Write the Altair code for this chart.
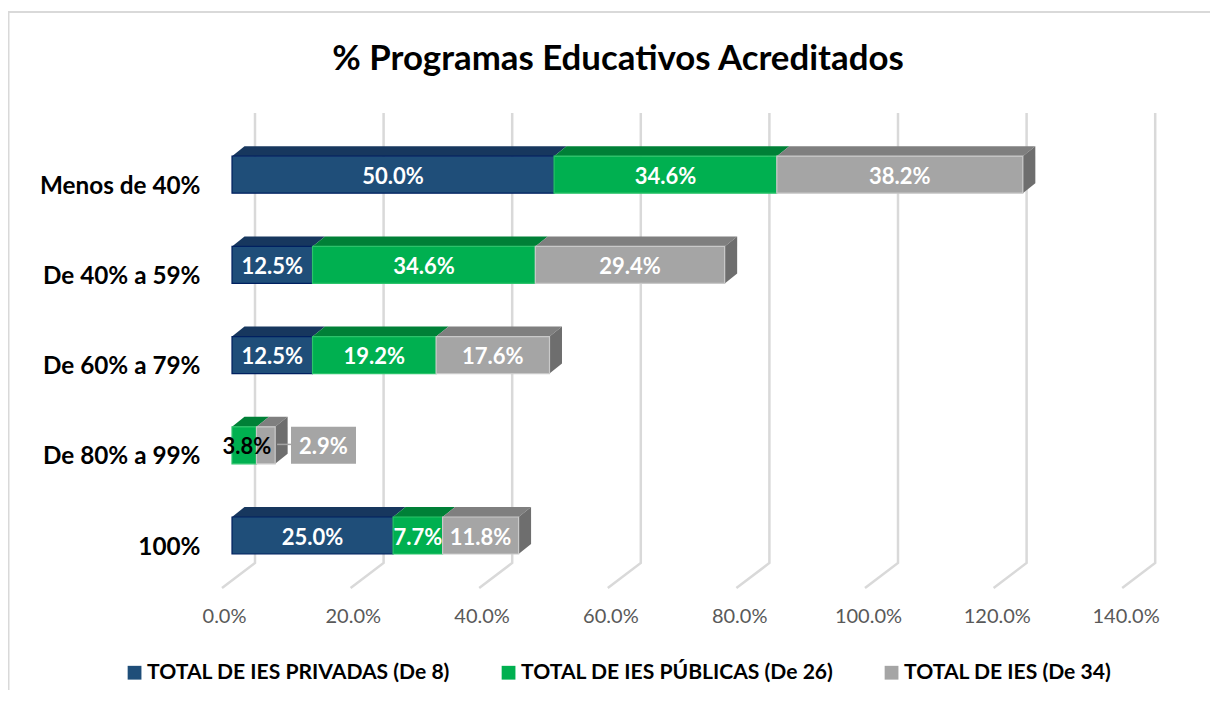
import altair as alt
import pandas as pd

TITLE = "% Programas Educativos Acreditados"
categories = ["100%", "De 80% a 99%", "De 60% a 79%", "De 40% a 59%", "Menos de 40%"]
series_names = ["TOTAL DE IES PRIVADAS (De 8)", "TOTAL DE IES PÚBLICAS (De 26)", "TOTAL DE IES (De 34)"]
privadas = [25.0, 0.0, 12.5, 12.5, 50.0]
publicas = [7.7, 3.8, 19.2, 34.6, 34.6]
total = [11.8, 2.9, 17.6, 29.4, 38.2]
ticks = [0, 20, 40, 60, 80, 100, 120, 140]

FONT = "Lato"
front_colors = ["#1F4E79", "#00B050", "#A5A5A5"]
edge_colors = ["#002060", "#2CC36B", "#C9C9C9"]
top_colors = ["#17375E", "#008037", "#7F7F7F"]
side_color = "#6E6E6E"

W, H = 1202, 682
PX_PER_V, X0 = 6.44, 232 - 8      # value scale, zero in svg px
PX_PER_R, R0 = 90.2, 535.5 - 8    # row scale, row 0 centre in svg px
xdom = [-X0 / PX_PER_V, (W - X0) / PX_PER_V]
ydom = [(R0 - H) / PX_PER_R, R0 / PX_PER_R]
DX = 12.5 / PX_PER_V              # depth of the 3-D bars
DY = 10 / PX_PER_R
HALF = 18.5 / PX_PER_R
xs = alt.Scale(domain=xdom, nice=False, zero=False)
ys = alt.Scale(domain=ydom, nice=False, zero=False)

front, tops, sides, labels = [], [], [], []
for r, cat in enumerate(categories):
    start = 0.0
    vals = [privadas[r], publicas[r], total[r]]
    for s, v in enumerate(vals):
        if v == 0:
            continue
        end = start + v
        key = f"{r}-{s}"
        front.append(dict(series=series_names[s], a=start, b=end, y0=r - HALF, y1=r + HALF,
                          edge=edge_colors[s]))
        tops += [dict(k=key, a=start, b=end, y=r + HALF, c=top_colors[s]),
                 dict(k=key, a=start + DX, b=end + DX, y=r + HALF + DY, c=top_colors[s])]
        labels.append(dict(x=(start + end) / 2, y=r, t=f"{v:.1f}%", c="#000000" if (r == 1 and s == 1) else "#FFFFFF"))
        start = end
    sides += [dict(k=r, x=start, y0=r - HALF, y1=r + HALF),
              dict(k=r, x=start + DX, y0=r - HALF + DY, y1=r + HALF + DY)]

# the 80-99% row: callout for the grey label, black label on the green segment
row = categories.index("De 80% a 99%")
BOX = [(291 - 232) / PX_PER_V, (356 - 232) / PX_PER_V]
for lab in labels:
    if lab["y"] == row and lab["t"] == "3.8%":
        lab["x"] = 2.3
    if lab["y"] == row and lab["t"] == "2.9%":
        lab["x"] = sum(BOX) / 2
box_df = pd.DataFrame([dict(a=BOX[0], b=BOX[1], y0=row - HALF, y1=row + HALF)])
lead_df = pd.DataFrame([dict(a=7.0, b=BOX[0], y=row + 0.01)])

grid = []
FL_FRONT, FL_BACK, GR_TOP = (R0 - 580) / PX_PER_R, (R0 - 555) / PX_PER_R, (R0 - 105) / PX_PER_R
for t in ticks:
    g = t * 6.43 / PX_PER_V
    grid += [dict(t=t, o=0, x=g - 10 / PX_PER_V, y=FL_FRONT),
             dict(t=t, o=1, x=g + 23 / PX_PER_V, y=FL_BACK),
             dict(t=t, o=2, x=g + 23 / PX_PER_V, y=GR_TOP)]

X = lambda f: alt.X(f, type="quantitative", scale=xs, title=None)
Y = lambda f: alt.Y(f, type="quantitative", scale=ys, title=None)

grid_layer = alt.Chart(pd.DataFrame(grid)).mark_line(color="#D9D9D9", strokeWidth=2.5).encode(
    x=alt.X("x:Q", scale=xs, title=None,
            axis=alt.Axis(values=ticks, labelExpr="format(datum.value, '.1f') + '%'", offset=-(H - 580),
                          domain=False, ticks=False, grid=False, labelPadding=18, labelOffset=-8,
                          labelFont=FONT, labelFontSize=20, labelColor="#595959")),
    y=alt.Y("y:Q", scale=ys, title=None,
            axis=alt.Axis(values=list(range(len(categories))),
                          labelExpr=f"{categories!r}[datum.value]", offset=-192,
                          domain=False, ticks=False, grid=False, labelPadding=0, labelOffset=11.5,
                          labelFont=FONT, labelFontSize=24.3, labelFontWeight="bold", labelColor="#000000")),
    detail="t:N", order="o:Q")

frame_left = alt.Chart(pd.DataFrame([dict(x=xdom[0], y0=ydom[0], y1=(R0 - 4) / PX_PER_R)])).mark_rule(
    color="#D9D9D9", strokeWidth=3).encode(x=X("x"), y=Y("y0"), y2="y1")
frame_top = alt.Chart(pd.DataFrame([dict(a=xdom[0], b=xdom[1], y=(R0 - 4) / PX_PER_R)])).mark_rule(
    color="#D9D9D9", strokeWidth=2).encode(x=X("a"), x2="b", y=Y("y"))

top_layer = alt.Chart(pd.DataFrame(tops)).mark_area(orient="horizontal").encode(
    y=Y("y"), x=alt.X("a:Q", scale=xs, stack=None, title=None), x2="b:Q",
    detail="k:N", color=alt.Color("c:N", scale=None))
side_layer = alt.Chart(pd.DataFrame(sides)).mark_area(orient="vertical", color=side_color).encode(
    x=X("x"), y=alt.Y("y0:Q", scale=ys, stack=None, title=None), y2="y1:Q", detail="k:N")

front_layer = alt.Chart(pd.DataFrame(front)).mark_rect(strokeWidth=1.2).encode(
    x=X("a"), x2="b", y=Y("y0"), y2="y1",
    stroke=alt.Stroke("edge:N", scale=None),
    color=alt.Color("series:N", scale=alt.Scale(domain=series_names, range=front_colors),
                    legend=alt.Legend(orient="none", legendX=116, legendY=654, direction="horizontal",
                                      columns=3, title=None, symbolType="square", symbolSize=190,
                                      symbolStrokeWidth=0, symbolOpacity=1, labelFont=FONT,
                                      labelFontSize=21.1, labelFontWeight="bold", labelColor="#000000",
                                      labelLimit=400, labelOffset=2, columnPadding=47)))

box_layer = alt.Chart(box_df).mark_rect(color="#A5A5A5").encode(x=X("a"), x2="b", y=Y("y0"), y2="y1")
lead_layer = alt.Chart(lead_df).mark_rule(color="#A5A5A5", strokeWidth=1.5).encode(x=X("a"), x2="b", y=Y("y"))
text_layer = alt.Chart(pd.DataFrame(labels)).mark_text(
    font=FONT, fontSize=22, fontWeight="bold", align="center", baseline="middle", dy=2).encode(
    x=X("x"), y=Y("y"), text="t:N", color=alt.Color("c:N", scale=None))

chart = alt.layer(grid_layer, frame_left, frame_top, top_layer, side_layer, lead_layer, box_layer,
                  front_layer, text_layer).properties(
    width=W, height=H, padding=0, autosize=alt.AutoSizeParams(type="none"),
    background="#FFFFFF",
    title=alt.TitleParams(TITLE, font=FONT, fontSize=34.8, fontWeight="bold", color="#000000",
                          anchor="middle", offset=0, dy=70, dx=9),
).configure_view(stroke=None)

chart.save("out.html", embed_options={"renderer": "svg", "actions": False})
